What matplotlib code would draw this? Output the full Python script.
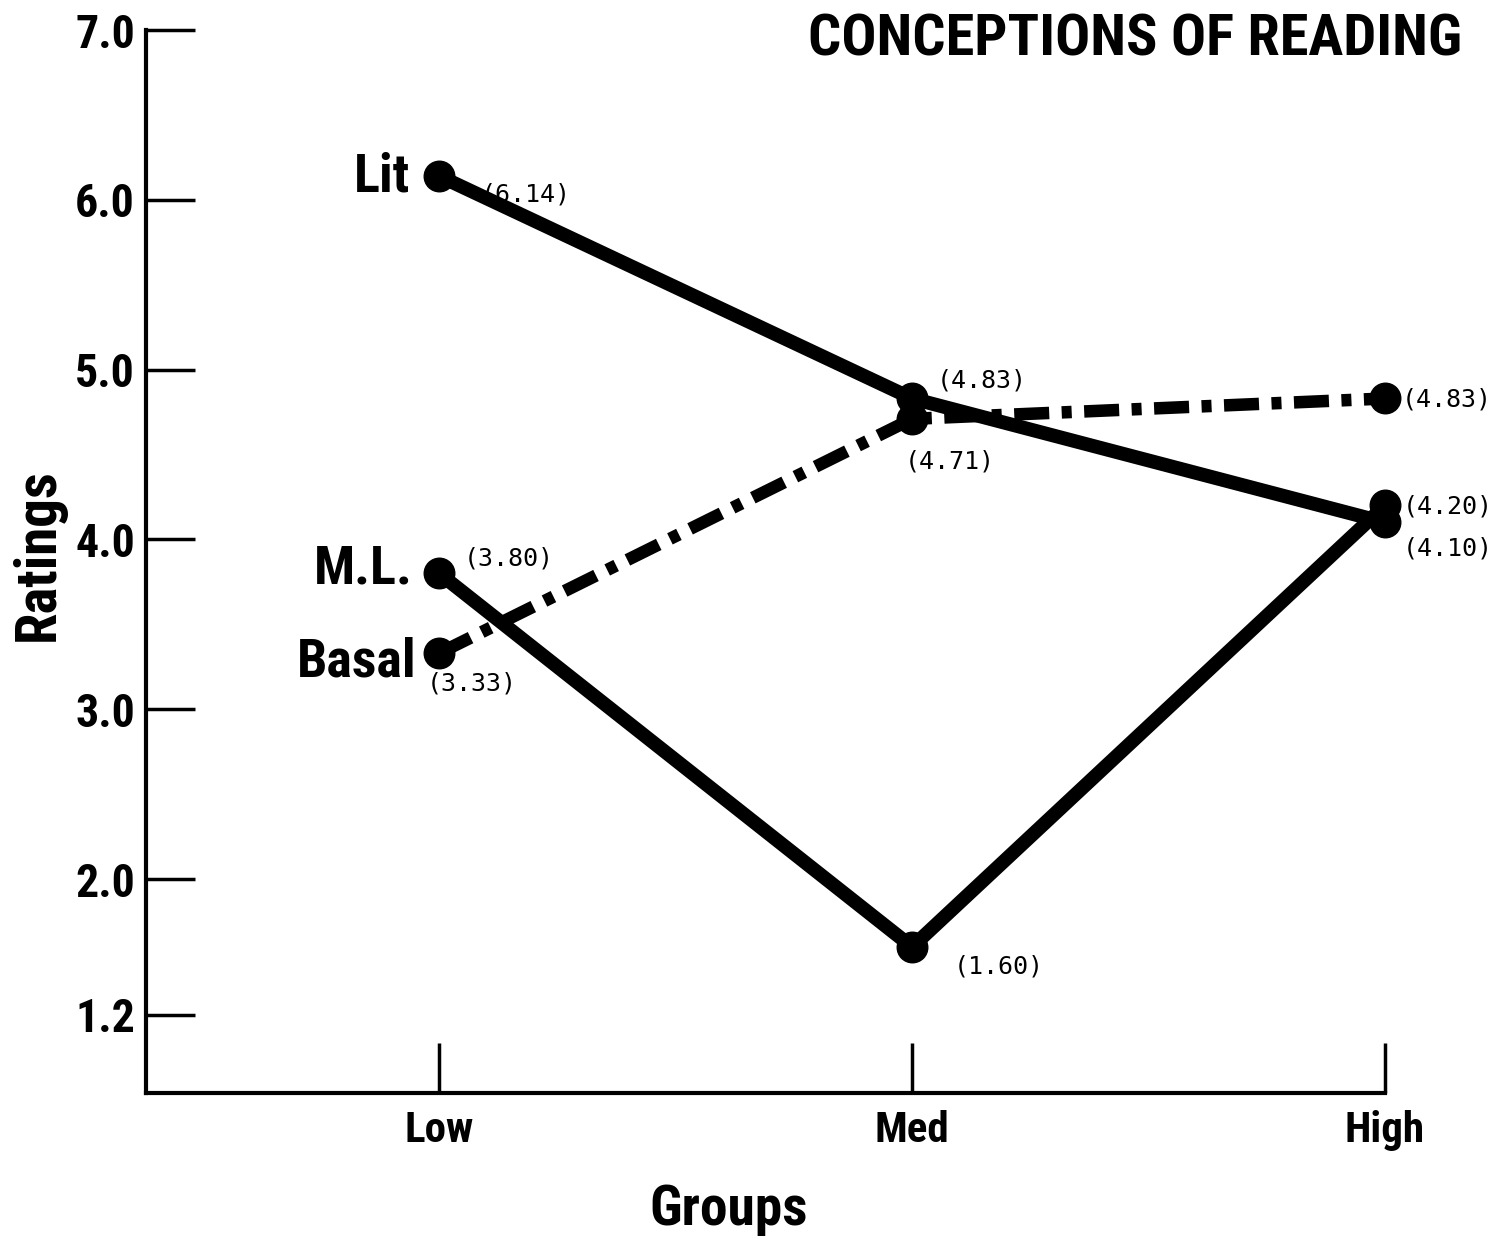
import matplotlib
matplotlib.use("Agg")
import matplotlib.pyplot as plt
from matplotlib import font_manager as fm

# data (values printed next to each point)
groups = ["Low", "Med", "High"]
lit = [6.14, 4.83, 4.10]
ml = [3.80, 1.60, 4.20]
basal = [3.33, 4.71, 4.83]
yticks = [1.2, 2.0, 3.0, 4.0, 5.0, 6.0, 7.0]

# look for a bold condensed face; fall back to DejaVu Sans scaled down
narrow = None
for pref in ["Roboto", "Liberation", "Noto", "Open", "DejaVu", "Lato", "Inter"]:
    for f in fm.fontManager.ttflist:
        fn = f.fname.split("/")[-1]
        if pref in fn and ("ondensed" in fn or "Narrow" in fn) and \
                ("Bold" in fn or f.weight in (700, "bold")) and \
                "Semi" not in fn and "Extra" not in fn and "Italic" not in fn:
            narrow = f.fname
            break
    if narrow:
        break
k = 1.0 if narrow else 0.72


def cfont(size):
    if narrow:
        return fm.FontProperties(fname=narrow, size=size)
    return fm.FontProperties(family="DejaVu Sans", weight="bold", size=size * k)


mono = ["DejaVu Sans Mono"]

fig = plt.figure(figsize=(14.97, 12.40), dpi=100)
ax = fig.add_axes([146/1497, 1-1093/1240, 1239/1497, 1063/1240])

x = list(range(len(groups)))

# solid series
ax.plot(x, lit, color="black", lw=10, marker="o", ms=22, clip_on=False,
        solid_capstyle="round", solid_joinstyle="round")
ax.plot(x, ml, color="black", lw=10, marker="o", ms=22, clip_on=False,
        solid_capstyle="round", solid_joinstyle="round")
# dash-dot series
ax.plot(x, basal, color="black", lw=9, marker="o", ms=22, clip_on=False,
        dashes=(2.8, 1.0, 0.8, 1.0), dash_capstyle="butt")

ax.set_xlim(-0.62, 2.0)
ax.set_ylim(0.74, 7.0)
ax.set_xticks(x)
ax.set_xticklabels(groups)
ax.set_yticks(yticks)
ax.set_yticklabels(["%.1f" % v for v in yticks])

for s in ["top", "right"]:
    ax.spines[s].set_visible(False)
for s in ["left", "bottom"]:
    ax.spines[s].set_linewidth(3)

ax.tick_params(axis="y", direction="in", length=35, width=2.5, pad=8)
ax.tick_params(axis="x", direction="in", length=36, width=2.5, pad=12)
for lab in ax.get_yticklabels():
    lab.set_fontproperties(cfont(33))
for lab in ax.get_xticklabels():
    lab.set_fontproperties(cfont(31))

# value labels next to points (offsets in points)
offsets = {
    "lit": [(30, -13), (18, 13), (13, -19)],
    "ml": [(18, 11), (30, -14), (13, -1)],
    "basal": [(-9, -22), (-5, -31), (12, -1)],
}
for key, vals in [("lit", lit), ("ml", ml), ("basal", basal)]:
    for i, v in enumerate(vals):
        ax.annotate("(%.2f)" % v, (i, v), xytext=offsets[key][i],
                    textcoords="offset points", ha="left", va="center",
                    family=mono, fontsize=18, annotation_clip=False)

# series names at the left end
names = [("Lit", lit[0], (-21, -1)), ("M.L.", ml[0], (-19, 3)),
         ("Basal", basal[0], (-16, -6))]
for name, v, off in names:
    ax.annotate(name, (0, v), xytext=off, textcoords="offset points",
                ha="right", va="center", fontproperties=cfont(39))

fig.text(1462/1497, 1-56/1240, "CONCEPTIONS OF READING", ha="right",
         va="baseline", fontproperties=cfont(42))
fig.text(729/1497, 1-1210/1240, "Groups", ha="center", va="center",
         fontproperties=cfont(40))
fig.text(38/1497, 1-555/1240, "Ratings", ha="center", va="center",
         rotation=90, fontproperties=cfont(41))

fig.savefig("out.png", dpi=100)
